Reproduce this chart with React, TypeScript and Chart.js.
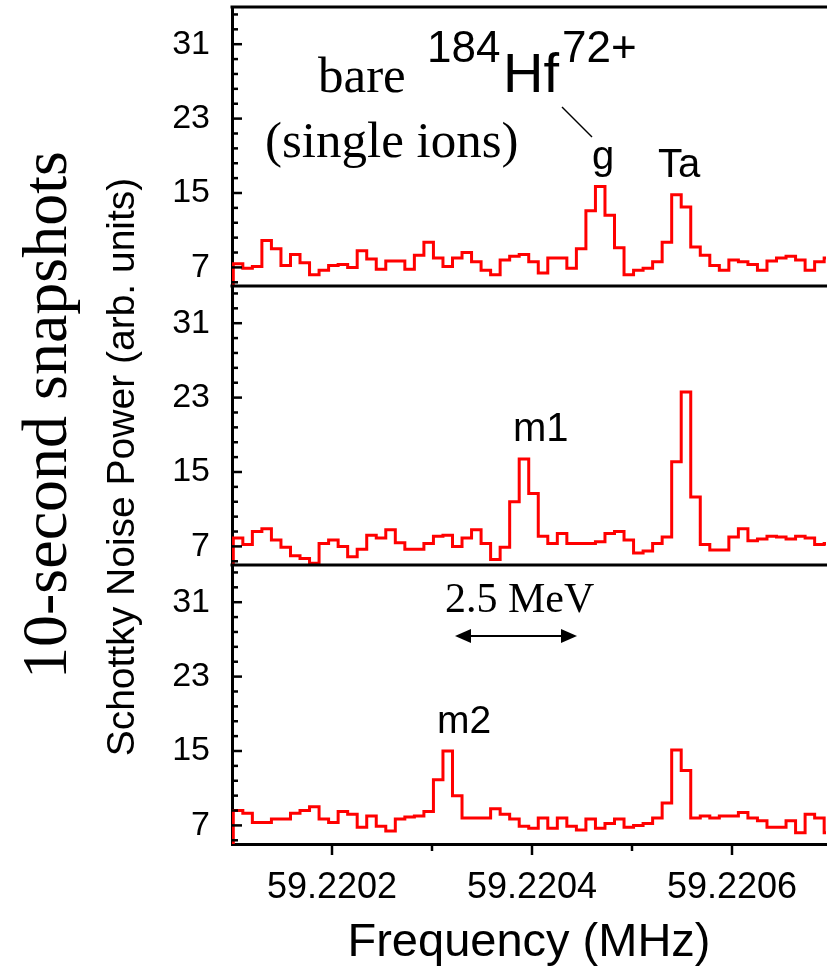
import React, { useEffect, useRef } from 'react';
import { Chart, registerables } from 'chart.js';

Chart.register(...registerables);

// ---- data ----
const FREQ_START = 59.2201013; // MHz, left edge of first FFT bin
const BIN_WIDTH = 0.00000953; // MHz per bin
const Y_MIN = 5;
const Y_MAX = 35;
const X_MIN = 59.2201;
const X_MAX = 59.220694;

// panel 1: bare 184Hf72+ ground state (g) and Ta
const TOP_POWER = [
  7.4, 6.9, 7.1, 9.9, 9.0, 7.2, 8.4, 7.5, 6.2, 6.7,
  7.2, 7.3, 7.0, 8.8, 7.9, 6.8, 7.7, 7.7, 6.8, 8.3,
  9.7, 8.0, 7.1, 8.0, 8.6, 7.6, 6.7, 6.2, 7.8, 8.2,
  8.4, 7.6, 6.4, 8.0, 8.0, 6.9, 9.0, 13.1, 15.7, 12.6,
  9.1, 6.2, 6.7, 6.9, 7.6, 9.7, 14.8, 13.5, 9.2, 8.3,
  7.2, 6.7, 7.8, 7.6, 7.3, 6.7, 7.7, 8.0, 8.2, 7.8,
  6.7, 7.6, 8.0,
];

// panel 2: isomer m1 and Ta
const MID_POWER = [
  7.9, 7.2, 8.6, 8.9, 7.7, 6.9, 6.0, 5.7, 5.2, 7.3,
  7.7, 7.0, 5.9, 6.7, 8.2, 7.9, 8.8, 7.4, 6.7, 6.7,
  7.3, 8.1, 8.2, 7.0, 7.9, 8.8, 7.3, 5.6, 6.9, 11.8,
  16.4, 12.7, 8.1, 7.3, 8.4, 7.3, 7.3, 7.3, 7.5, 8.4,
  8.6, 7.7, 6.3, 6.5, 7.3, 8.0, 16.1, 23.6, 12.3, 7.2,
  6.6, 6.6, 8.0, 8.9, 7.6, 7.8, 8.1, 8.0, 7.8, 8.1,
  7.9, 7.2, 7.3,
];

// panel 3: isomer m2 and Ta
const BOT_POWER = [
  8.6, 8.3, 7.3, 7.3, 7.7, 7.7, 8.3, 8.6, 9.0, 7.7,
  7.3, 8.5, 8.2, 6.8, 8.0, 6.9, 6.4, 7.7, 7.9, 8.0,
  8.5, 11.9, 15.0, 10.2, 7.8, 7.8, 7.8, 8.8, 8.2, 7.7,
  6.9, 6.7, 7.8, 6.7, 7.8, 6.9, 6.5, 7.7, 6.7, 7.2,
  7.7, 6.8, 7.0, 7.2, 7.8, 9.4, 15.1, 12.9, 7.8, 8.0,
  7.8, 8.0, 8.0, 8.4, 7.8, 7.5, 6.8, 6.8, 7.5, 6.2,
  8.2, 7.8, 6.2,
];

const Y_TICKS = [
  5.4, 7, 8.6, 10.2, 11.8, 13.4, 15, 16.6, 18.2, 19.8,
  21.4, 23, 24.6, 26.2, 27.8, 29.4, 31, 32.6, 34.2,
];
const Y_TICK_LABELS = [
  '', '7', '', '', '', '', '15', '', '', '',
  '', '23', '', '', '', '', '31', '', '',
];
const X_TICKS = [59.2202, 59.2203, 59.2204, 59.2205, 59.2206];
const X_TICK_LABELS = ['59.2202', '', '59.2204', '', '59.2206'];

const PANEL_IDS = ['yTop', 'yMid', 'yBot'];

// ---- styles ----
const SANS = '"Liberation Sans", Arial, Helvetica, sans-serif';
const SERIF = '"Liberation Serif", "Times New Roman", serif';
const RED = '#ff0000';

function toSteps(values: number[]) {
  const pts = [{ x: FREQ_START, y: Y_MIN }];
  values.forEach((v, i) => pts.push({ x: FREQ_START + (i + 1) * BIN_WIDTH, y: v }));
  return pts;
}

function yScale(weight: number) {
  return {
    type: 'linear',
    position: 'left',
    stack: 'panels',
    stackWeight: 1,
    weight,
    min: Y_MIN,
    max: Y_MAX,
    afterBuildTicks: (axis: any) => {
      axis.ticks = Y_TICKS.map((v) => ({ value: v }));
    },
    afterFit: (axis: any) => {
      axis.width = 232;
      axis.paddingTop = 0;
      axis.paddingBottom = 0;
    },
    ticks: {
      autoSkip: false,
      padding: 22,
      color: '#000',
      font: { family: SANS, size: 34 },
      callback: (_v: any, i: number) => Y_TICK_LABELS[i],
    },
    grid: { display: false, drawTicks: false },
    border: { display: true, color: '#000', width: 3 },
  };
}

const overlayPlugin = {
  id: 'overlay',
  afterDraw(chart: any) {
    const { ctx, chartArea, scales } = chart;
    const line = (x1: number, y1: number, x2: number, y2: number) => {
      ctx.beginPath();
      ctx.moveTo(x1, y1);
      ctx.lineTo(x2, y2);
      ctx.stroke();
    };
    const text = (s: string, x: number, y: number, font: string) => {
      ctx.font = font;
      ctx.textAlign = 'left';
      ctx.textBaseline = 'alphabetic';
      ctx.fillText(s, x, y);
    };
    ctx.save();
    ctx.strokeStyle = '#000';
    ctx.fillStyle = '#000';
    ctx.lineCap = 'butt';

    // panel top borders / separators
    ctx.lineWidth = 3;
    PANEL_IDS.forEach((id) => {
      const s = scales[id];
      line(chartArea.left - 1.5, s.top, chartArea.right + 1, s.top);
    });

    // inward y ticks
    ctx.lineWidth = 2.5;
    PANEL_IDS.forEach((id) => {
      const s = scales[id];
      s.ticks.forEach((t: any, i: number) => {
        const y = s.getPixelForValue(t.value);
        const len = Y_TICK_LABELS[i] ? 10 : 6;
        line(chartArea.left, y, chartArea.left + len, y);
      });
    });

    // outward x ticks
    const xs = scales.x;
    xs.ticks.forEach((t: any, i: number) => {
      const x = xs.getPixelForValue(t.value);
      const len = X_TICK_LABELS[i] ? 11 : 7;
      line(x, chartArea.bottom, x, chartArea.bottom + len);
    });

    // left titles
    ctx.save();
    ctx.translate(66, 415);
    ctx.rotate(-Math.PI / 2);
    ctx.font = `64px ${SERIF}`;
    ctx.textAlign = 'center';
    ctx.textBaseline = 'alphabetic';
    ctx.fillText('10-second snapshots', 0, 0);
    ctx.restore();

    ctx.save();
    ctx.translate(134, 467);
    ctx.rotate(-Math.PI / 2);
    ctx.font = `39px ${SANS}`;
    ctx.textAlign = 'center';
    ctx.textBaseline = 'alphabetic';
    ctx.fillText('Schottky Noise Power (arb. units)', 0, 0);
    ctx.restore();

    // panel 1 annotations
    text('bare', 318, 92, `51px ${SERIF}`);
    text('(single ions)', 265, 157, `51px ${SERIF}`);
    text('184', 427, 62, `44px ${SANS}`);
    text('Hf', 503, 92, `56px ${SANS}`);
    text('72+', 562, 62, `44px ${SANS}`);
    ctx.lineWidth = 1.5;
    line(562, 107, 592, 137);
    text('g', 592, 169, `40px ${SANS}`);
    text('Ta', 658, 177, `40px ${SANS}`);

    // panel 2
    text('m1', 513, 441, `40px ${SANS}`);

    // panel 3
    text('2.5 MeV', 445, 612, `42px ${SERIF}`);
    ctx.lineWidth = 2;
    const ay = 636;
    const ax1 = 455;
    const ax2 = 577;
    line(ax1 + 12, ay, ax2 - 12, ay);
    ctx.beginPath();
    ctx.moveTo(ax1, ay);
    ctx.lineTo(ax1 + 16, ay - 7);
    ctx.lineTo(ax1 + 16, ay + 7);
    ctx.closePath();
    ctx.fill();
    ctx.beginPath();
    ctx.moveTo(ax2, ay);
    ctx.lineTo(ax2 - 16, ay - 7);
    ctx.lineTo(ax2 - 16, ay + 7);
    ctx.closePath();
    ctx.fill();
    text('m2', 437, 733, `39px ${SANS}`);

    ctx.restore();
  },
};

export default function App() {
  const ref = useRef<HTMLCanvasElement>(null);
  useEffect(() => {
    document.body.style.margin = '0';
    const datasets = [
      { data: toSteps(TOP_POWER), yAxisID: 'yTop' },
      { data: toSteps(MID_POWER), yAxisID: 'yMid' },
      { data: toSteps(BOT_POWER), yAxisID: 'yBot' },
    ].map((d) => ({
      ...d,
      borderColor: RED,
      borderWidth: 3,
      pointRadius: 0,
      fill: false,
      stepped: 'after',
      borderJoinStyle: 'miter',
    }));
    const chart = new Chart(ref.current as HTMLCanvasElement, {
      type: 'line',
      data: { datasets } as any,
      options: {
        responsive: false,
        animation: false,
        devicePixelRatio: 1,
        parsing: false,
        layout: { padding: { top: 7, left: 0, right: 1, bottom: 0 } },
        plugins: { legend: { display: false }, tooltip: { enabled: false } },
        scales: {
          x: {
            type: 'linear',
            position: 'bottom',
            min: X_MIN,
            max: X_MAX,
            afterBuildTicks: (axis: any) => {
              axis.ticks = X_TICKS.map((v) => ({ value: v }));
            },
            afterFit: (axis: any) => {
              axis.height = 128;
              axis.paddingLeft = 0;
              axis.paddingRight = 0;
            },
            ticks: {
              autoSkip: false,
              maxRotation: 0,
              minRotation: 0,
              padding: 22,
              color: '#000',
              font: { family: SANS, size: 36 },
              callback: (_v: any, i: number) => X_TICK_LABELS[i],
            },
            grid: { display: false, drawTicks: false },
            border: { display: true, color: '#000', width: 3 },
            title: {
              display: true,
              text: 'Frequency (MHz)',
              color: '#000',
              font: { family: SANS, size: 47 },
              padding: { top: 0, bottom: 1 },
            },
          },
          yTop: yScale(3),
          yMid: yScale(2),
          yBot: yScale(1),
        } as any,
      },
      plugins: [overlayPlugin],
    } as any);
    return () => chart.destroy();
  }, []);
  return (
    <div style={{ position: 'absolute', left: 0, top: 0, width: 827, height: 972, background: '#fff' }}>
      <canvas ref={ref} width={827} height={972} style={{ display: 'block', width: 827, height: 972 }} />
    </div>
  );
}
